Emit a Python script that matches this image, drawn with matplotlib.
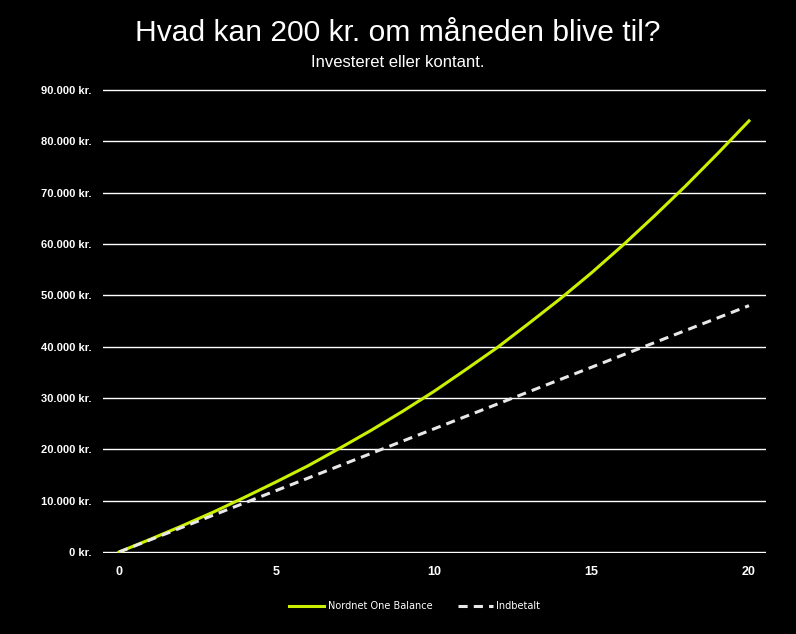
import matplotlib.pyplot as plt
from matplotlib.ticker import FuncFormatter

plt.rcParams['font.family'] = ['Liberation Sans', 'DejaVu Sans']

# Data
years = list(range(0, 21))
nordnet = [0, 2500, 5100, 7800, 10700, 13700, 16800, 20200, 23700, 27400, 31300,
           35500, 39800, 44500, 49300, 54400, 59800, 65500, 71400, 77600, 84000]
indbetalt = [0, 2400, 4800, 7200, 9600, 12000, 14400, 16800, 19200, 21600, 24000,
             26400, 28800, 31200, 33600, 36000, 38400, 40800, 43200, 45600, 48000]
yticks = [0, 10000, 20000, 30000, 40000, 50000, 60000, 70000, 80000, 90000]
xticks = [0, 5, 10, 15, 20]

fig = plt.figure(figsize=(7.96, 6.34), dpi=100, facecolor='black')
ax = fig.add_axes([0.1294, 0.1277, 0.8329, 0.7318], facecolor='black')

ax.plot(years, nordnet, color='#ccf000', lw=2.2, label='Nordnet One Balance')
ax.plot(years, indbetalt, color='#e8e8e8', lw=2.2, ls=(0, (3, 2)), label='Indbetalt')

ax.set_xlim(-0.51, 20.54)
ax.set_ylim(-200, 90200)
ax.set_xticks(xticks)
ax.set_yticks(yticks)

def kr(v, pos):
    if v == 0:
        return '0 kr.'
    return f'{int(v):,} kr.'.replace(',', '.')

ax.yaxis.set_major_formatter(FuncFormatter(kr))
ax.grid(axis='y', color='white', lw=1)
ax.set_axisbelow(True)
for s in ax.spines.values():
    s.set_visible(False)
ax.tick_params(length=0, colors='white')
ax.tick_params(axis='y', labelsize=8, pad=8)
ax.tick_params(axis='x', labelsize=9, pad=9)
for lbl in ax.get_yticklabels() + ax.get_xticklabels():
    lbl.set_fontweight('bold')

fig.text(0.5, 0.948, 'Hvad kan 200 kr. om måneden blive til?', color='white',
         ha='center', va='center', fontsize=21.6)
fig.text(0.5, 0.902, 'Investeret eller kontant.', color='white',
         ha='center', va='center', fontsize=12)

leg = ax.legend(loc='upper center', bbox_to_anchor=(0.47, -0.085), ncol=2,
                frameon=False, prop={'family': 'DejaVu Sans', 'size': 7},
                labelcolor='white', handlelength=3.6, handletextpad=0.4,
                columnspacing=2.6)

plt.savefig('out.png', dpi=100, facecolor='black')
